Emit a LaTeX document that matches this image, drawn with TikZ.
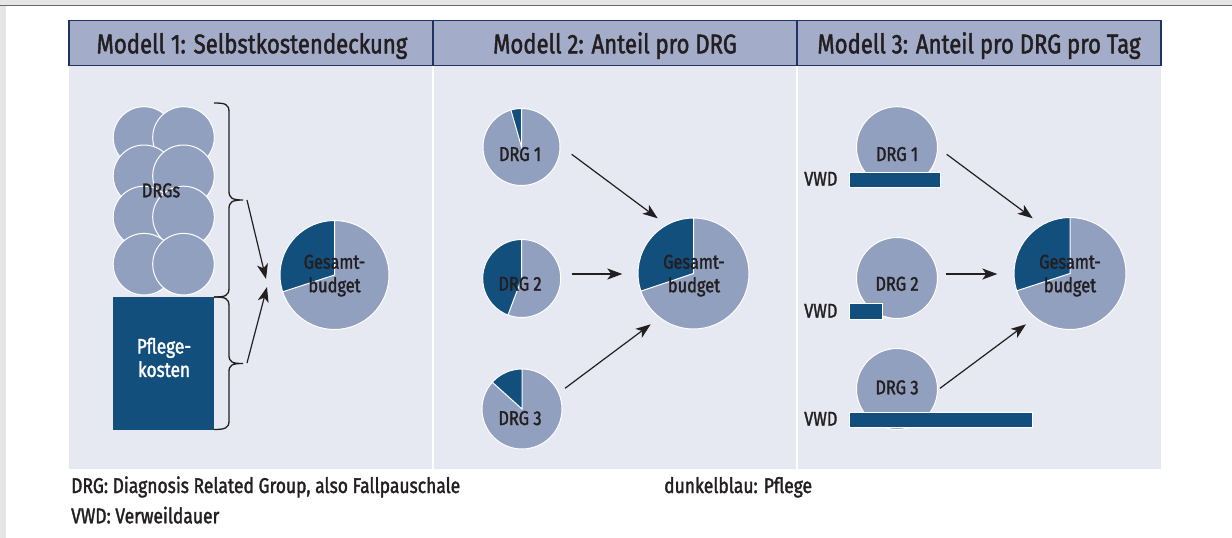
\documentclass[tikz,border=0pt]{standalone}
\usepackage{fontspec}
\setmainfont{Fira Sans}[FakeStretch=0.82,FakeBold=1.6]
\usetikzlibrary{arrows.meta}
\definecolor{lightpie}{RGB}{146,160,192}
\definecolor{darkblue}{RGB}{19,79,125}
\definecolor{panelbg}{RGB}{230,233,241}
\definecolor{headbg}{RGB}{163,172,200}
\definecolor{headborder}{RGB}{31,52,99}
\definecolor{inkc}{RGB}{35,31,32}
\definecolor{stripgray}{RGB}{229,229,229}
\definecolor{stripline}{RGB}{105,105,105}
\newcommand\drawpie[4]{%
  \fill[lightpie] (#1,#2) circle[radius=#3];
  \fill[darkblue] (#1,#2) -- ++(-90:#3) arc[start angle=-90,end angle=-#4,radius=#3] -- cycle;
  \draw[white,line width=1pt] (#1,#2) circle[radius=#3];
  \draw[white,line width=1pt] (#1,#2) ++(-90:#3) -- (#1,#2) -- ++(-#4:#3);
}
\newcommand\drawdisc[3]{%
  \fill[lightpie] (#1,#2) circle[radius=#3];
  \draw[white,line width=1pt] (#1,#2) circle[radius=#3];
}
\begin{document}
\begin{tikzpicture}[x=1pt,y=-1pt,
  lbl/.style={font=\fontsize{20}{23.5}\selectfont,text=inkc,inner sep=0pt},
  gtext/.style={lbl,align=center},
  hdr/.style={font=\fontsize{27}{30}\selectfont,text=inkc,inner sep=0pt,anchor=base},
  foot/.style={font=\fontsize{21.3}{24}\selectfont,text=inkc,inner sep=0pt,anchor=base west},
  hbox/.style={draw=headborder,fill=headbg,line width=1.2pt},
  arr/.style={draw=inkc,line width=1.2pt,-{Stealth[length=15pt,width=11pt,inset=4pt]}},
  bracepath/.style={draw=inkc,line width=1.3pt},
  bar/.style={fill=darkblue,draw=white,line width=0.8pt}
]
\useasboundingbox (0,0) rectangle (1232,538);
\fill[white] (0,0) rectangle (1232,538);
% outer strips
\fill[stripgray] (0,0) rectangle (1232,5);
\fill[stripgray] (0,5) rectangle (6,538);
\draw[stripline,line width=1.3pt] (0,5.6) -- (1232,5.6);

% panels
\fill[panelbg] (69,65.7) rectangle (1161,469.3);
\draw[white,line width=1.5pt] (433,65.7) -- (433,469.3);
\draw[white,line width=1.5pt] (797,65.7) -- (797,469.3);

% headers
\draw[hbox] (69,20.7) rectangle (433,65.7);
\draw[hbox] (433,20.7) rectangle (797,65.7);
\draw[hbox] (797,20.7) rectangle (1161,65.7);
\node[hdr] (h1) at (252,53.3) {Modell 1: Selbstkostendeckung};
\node[hdr] (h2) at (615,53.3) {Modell 2: Anteil pro DRG};
\node[hdr] (h3) at (979,53.3) {Modell 3: Anteil pro DRG pro Tag};

% ---------- Model 1 ----------
\drawdisc{144}{137.5}{30.8}
\drawdisc{183.5}{137.5}{30.8}
\drawdisc{144}{175.8}{30.8}
\drawdisc{183.5}{175.8}{30.8}
\drawdisc{144}{217}{30.8}
\drawdisc{183.5}{217}{30.8}
\drawdisc{144}{264.2}{30.8}
\drawdisc{183.5}{264.2}{30.8}
\node[lbl,anchor=base] (drgs) at (161,197.3) {DRGs};
\fill[darkblue] (113,297) rectangle (214,429.5);
\node[lbl,align=center,text=white,font=\fontsize{21}{23.4}\selectfont] (pflege) at (164,357.5) {Pflege-\\kosten};

% braces
\coordinate (b1) at (243,200);
\coordinate (b2) at (243,363.5);
\draw[bracepath] (214,103) .. controls (225,103) and (229,104) .. (229,112)
  -- (229,191) .. controls (229,198) and (232,200) .. (b1)
  .. controls (232,200) and (229,202) .. (229,209)
  -- (229,288) .. controls (229,296) and (225,297) .. (214,297);
\draw[bracepath] (214,297) .. controls (225,297) and (229,298) .. (229,306)
  -- (229,355) .. controls (229,362) and (232,363.5) .. (b2)
  .. controls (232,363.5) and (229,365) .. (229,372)
  -- (229,421) .. controls (229,428) and (225,429.5) .. (214,429.5);

\coordinate (g1) at (334.5,275);
\drawpie{334.5}{275}{54.5}{198}
\node[gtext] (gt1) at (334.5,275.6) {Gesamt-\\budget};
\coordinate (a1s) at (247,200);
\coordinate (a1e) at (266,279);
\coordinate (a2s) at (247,363);
\coordinate (a2e) at (267,287);
\draw[arr] (a1s) -- (a1e);
\draw[arr] (a2s) -- (a2e);

% ---------- Model 2 ----------
\drawpie{521.5}{147}{38.5}{106}
\drawpie{521.7}{278.5}{39}{249.4}
\drawpie{522}{409}{40}{138}
\node[lbl,anchor=base] (m2d1) at (520,161) {DRG 1};
\node[lbl,anchor=base] (m2d2) at (520,290.7) {DRG 2};
\node[lbl,anchor=base] (m2d3) at (520,425) {DRG 3};
\drawpie{693.5}{273.5}{55.5}{198.5}
\node[gtext] (gt2) at (694,275.6) {Gesamt-\\budget};
\coordinate (m2a1s) at (571.7,154.3);
\coordinate (m2a1e) at (657.7,218.3);
\coordinate (m2a2s) at (571.7,274);
\coordinate (m2a2e) at (622.3,274);
\coordinate (m2a3s) at (565,388.3);
\coordinate (m2a3e) at (650.7,324.3);
\draw[arr] (m2a1s) -- (m2a1e);
\draw[arr] (m2a2s) -- (m2a2e);
\draw[arr] (m2a3s) -- (m2a3e);

% ---------- Model 3 ----------
\drawdisc{897}{147.2}{40.5}
\drawdisc{897}{278}{40.5}
\drawdisc{897}{389}{40.5}
\draw[bar] (849.3,172.7) rectangle (940.7,187.7);
\draw[bar] (849.3,303.3) rectangle (882,319.3);
\draw[bar] (849.3,412.3) rectangle (1032.3,427.7);
\node[lbl,anchor=base] (m3d1) at (897,161) {DRG 1};
\node[lbl,anchor=base] (m3d2) at (897,290.7) {DRG 2};
\node[lbl,anchor=base] (m3d3) at (897,394.3) {DRG 3};
\node[lbl,anchor=base west] (v1) at (804,185.7) {VWD};
\node[lbl,anchor=base west] (v2) at (804,317.7) {VWD};
\node[lbl,anchor=base west] (v3) at (804,425.7) {VWD};
\drawpie{1070}{273.5}{56}{198}
\node[gtext] (gt3) at (1070,275.6) {Gesamt-\\budget};
\coordinate (m3a1s) at (946.7,154.3);
\coordinate (m3a1e) at (1032.7,218.3);
\coordinate (m3a2s) at (946,274);
\coordinate (m3a2e) at (997.3,274);
\coordinate (m3a3s) at (940,388.3);
\coordinate (m3a3e) at (1026,324.3);
\draw[arr] (m3a1s) -- (m3a1e);
\draw[arr] (m3a2s) -- (m3a2e);
\draw[arr] (m3a3s) -- (m3a3e);

% footer
\node[foot] (f1) at (71,493) {DRG: Diagnosis Related Group, also Fallpauschale};
\node[foot] (f2) at (71,523.3) {VWD: Verweildauer};
\node[foot] (f3) at (664,493) {dunkelblau: Pflege};
\end{tikzpicture}
\end{document}
